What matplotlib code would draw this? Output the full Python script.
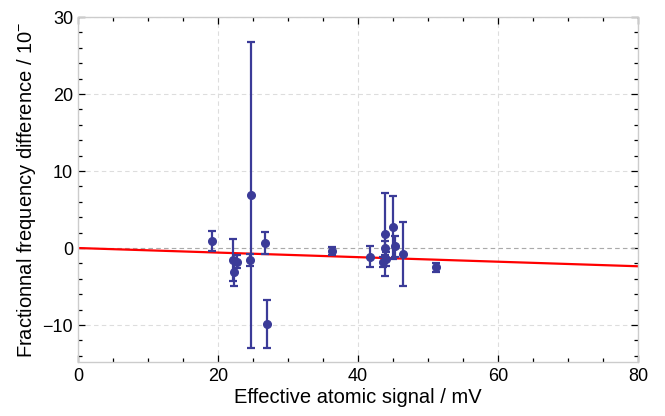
import numpy as np
import matplotlib
matplotlib.use('Agg')
import matplotlib.pyplot as plt
from matplotlib.ticker import MultipleLocator

plt.rcParams['font.family'] = ['Liberation Sans', 'DejaVu Sans']
plt.rcParams['mathtext.fontset'] = 'custom'
plt.rcParams['mathtext.rm'] = 'Liberation Sans'

signal = [19.2, 22.2, 22.3, 22.65, 24.5, 24.7, 26.7, 27.0, 36.3, 41.7,
          43.5, 43.8, 43.9, 44.0, 45.0, 45.3, 46.4, 51.2]
freq_diff = [0.9, -1.55, -3.15, -1.75, -1.55, 6.9, 0.65, -9.9, -0.35, -1.1,
             -1.8, 1.8, 0.0, -1.4, 2.7, 0.2, -0.8, -2.5]
freq_err = [1.25, 2.7, 1.75, 0.8, 0.8, 19.9, 1.4, 3.1, 0.5, 1.3,
            0.7, 5.4, 0.9, 0.9, 4.1, 1.4, 4.15, 0.55]
fit_slope = -0.0296
fit_intercept = 0.0

fig = plt.figure(figsize=(6.65, 4.16), dpi=100)
ax = fig.add_axes([0.1173, 0.1298, 0.8421, 0.8293])

ax.axhline(0, color='#aaaaaa', ls=(0, (4, 3)), lw=0.8, zorder=1)
xf = np.array([0, 80])
ax.plot(xf, fit_intercept + fit_slope * xf, color='#ff0000', lw=1.6, zorder=2)
ax.errorbar(signal, freq_diff, yerr=freq_err, fmt='o', color='#3b3b98',
            ms=5.5, elinewidth=1.6, capsize=2.6, capthick=1.6, zorder=3)

ax.set_xlim(0, 80)
ax.set_ylim(-14.8, 30)
ax.xaxis.set_major_locator(MultipleLocator(20))
ax.xaxis.set_minor_locator(MultipleLocator(5))
ax.yaxis.set_major_locator(MultipleLocator(10))
ax.yaxis.set_minor_locator(MultipleLocator(2))
ax.tick_params(which='both', direction='in', top=True, right=True,
               color='black', labelsize=13, width=0.9)
ax.tick_params(which='major', length=5)
ax.tick_params(which='minor', length=3)
ax.tick_params(axis='x', which='major', pad=4.5)
ax.tick_params(axis='y', which='major', pad=3.5)
ax.grid(which='major', color='#dddddd', ls=(0, (4, 3)), lw=0.8)
ax.set_axisbelow(True)
for s in ax.spines.values():
    s.set_color('#cccccc')
    s.set_linewidth(1.0)

ax.set_xlabel('Effective atomic signal / mV', fontsize=14.5, labelpad=2)
ax.set_ylabel('Fractionnal frequency difference / 10$^{-}$', fontsize=14.5, labelpad=3)

fig.savefig('out.png', dpi=100)
